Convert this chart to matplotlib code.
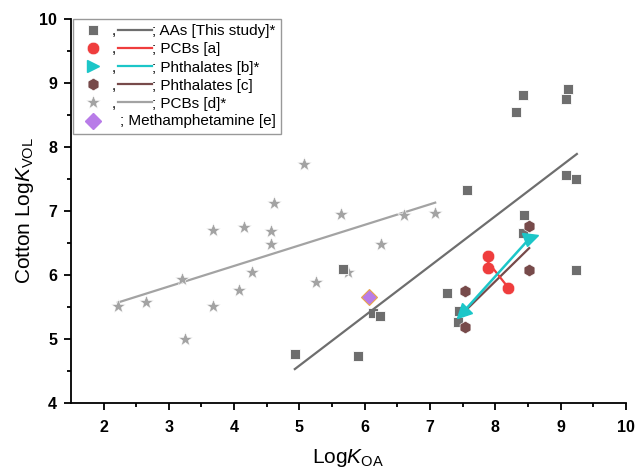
import matplotlib
matplotlib.use("Agg")
import matplotlib.pyplot as plt
from matplotlib.lines import Line2D
from matplotlib.text import Text
from matplotlib.markers import MarkerStyle
from matplotlib.transforms import Affine2D
from matplotlib.legend_handler import HandlerBase

plt.rcParams["font.family"] = ["Liberation Sans", "DejaVu Sans"]
plt.rcParams["mathtext.fontset"] = "custom"
plt.rcParams["mathtext.rm"] = "Liberation Sans"
plt.rcParams["mathtext.it"] = "Liberation Sans:italic"

# data
aa_x = [4.93, 5.89, 5.67, 6.13, 6.23, 7.26, 7.44, 7.43, 7.56, 8.43, 8.32, 9.12, 9.08, 9.08, 9.24, 9.24, 8.44, 8.43]
aa_y = [4.77, 4.73, 6.09, 5.40, 5.36, 5.72, 5.43, 5.26, 7.33, 8.81, 8.54, 8.90, 8.75, 7.56, 7.50, 6.08, 6.94, 6.66]
aa_fit_x = [4.93, 9.25]
aa_fit_y = [4.53, 7.89]

pcb_a_x = [7.89, 7.89, 8.19]
pcb_a_y = [6.30, 6.11, 5.80]
pcb_a_fit_x = [7.89, 8.17]
pcb_a_fit_y = [6.20, 5.84]

phth_b_x = [7.49, 8.55]
phth_b_y = [5.40, 6.60]

phth_c_x = [7.54, 7.54, 8.51, 8.51]
phth_c_y = [5.75, 5.18, 6.76, 6.07]
phth_c_fit_x = [7.53, 8.52]
phth_c_fit_y = [5.43, 6.42]

pcb_d_x = [2.22, 2.65, 3.20, 3.25, 3.67, 3.67, 4.08, 4.15, 4.27, 4.56, 4.56, 4.61,
           5.07, 5.25, 5.63, 5.75, 6.25, 6.60, 7.08]
pcb_d_y = [5.52, 5.58, 5.93, 5.00, 6.70, 5.52, 5.77, 6.75, 6.04, 6.68, 6.49, 7.13,
           7.73, 5.89, 6.95, 6.04, 6.49, 6.93, 6.97]
pcb_d_fit_x = [2.22, 7.08]
pcb_d_fit_y = [5.57, 7.13]

meth_x = [6.07]
meth_y = [5.65]

labels = ["; AAs [This study]*", "; PCBs [a]", "; Phthalates [b]*",
          "; Phthalates [c]", "; PCBs [d]*", "; Methamphetamine [e]"]

c_aa = "#6e6e6e"
c_red = "#ef3d3d"
c_cyan = "#1cc6c8"
c_brown = "#774a4a"
c_star = "#a3a3a3"
c_purple = "#b87ce8"

fig = plt.figure(figsize=(6.36, 4.73), dpi=100)
ax = fig.add_axes([0.1115, 0.148, 0.8725, 0.812])

ax.plot(pcb_d_fit_x, pcb_d_fit_y, color=c_star, lw=1.6, zorder=2)
st = ax.plot(pcb_d_x, pcb_d_y, ls="none", marker="*", ms=10, color=c_star,
             mec="white", mew=0.4, zorder=3)[0]

sq = ax.plot(aa_x, aa_y, ls="none", marker="s", ms=7.5, color=c_aa,
             mec="white", mew=0.6, zorder=3)[0]
ax.plot(aa_fit_x, aa_fit_y, color=c_aa, lw=1.6, zorder=4)

hx = ax.plot(phth_c_x, phth_c_y, ls="none", marker="h", ms=9, color=c_brown,
             mec="white", mew=0.4, zorder=3)[0]
ax.plot(phth_c_fit_x, phth_c_fit_y, color=c_brown, lw=1.6, zorder=4)

ci = ax.plot(pcb_a_x, pcb_a_y, ls="none", marker="o", ms=9, color=c_red,
             mec="white", mew=0.4, zorder=3)[0]
ax.plot(pcb_a_fit_x, pcb_a_fit_y, color=c_red, lw=1.6, zorder=4)

ax.plot(phth_b_x, phth_b_y, color=c_cyan, lw=1.8, zorder=5)
angles = [225, 20]
for xv, yv, a in zip(phth_b_x, phth_b_y, angles):
    ax.plot([xv], [yv], ls="none", color=c_cyan, ms=10,
            marker=MarkerStyle(">", transform=Affine2D().rotate_deg(a)), zorder=6)
tri = Line2D([], [], ls="none", marker=">", ms=9, color=c_cyan)

ax.plot(meth_x, meth_y, ls="none", marker="D", ms=8, color=c_purple,
        mec="#e8a54a", mew=0.8, zorder=6)
dm = Line2D([], [], ls="none", marker="D", ms=8, color=c_purple)


class CommaHandler(HandlerBase):
    def create_artists(self, legend, orig_handle, xdescent, ydescent,
                       width, height, fontsize, trans):
        mk, col = orig_handle
        y = height / 2 - ydescent
        x0 = -xdescent
        m = Line2D([x0 + 11], [y])
        m.update_from(mk)
        m.set_data([x0 + 11], [y])
        m.set_transform(trans)
        t = Text(x0 + 26, y - 1, ",", fontsize=fontsize, va="center",
                 ha="center", transform=trans)
        ln = Line2D([x0 + 29, x0 + width], [y, y], color=col, lw=1.6,
                    transform=trans)
        return [m, t, ln]


class TextHandler(HandlerBase):
    def create_artists(self, legend, orig_handle, xdescent, ydescent,
                       width, height, fontsize, trans):
        mk, txt = orig_handle
        y = height / 2 - ydescent
        x0 = -xdescent
        m = Line2D([x0 + 11], [y])
        m.update_from(mk)
        m.set_data([x0 + 11], [y])
        m.set_transform(trans)
        t = Text(x0 + 30, y, txt, fontsize=fontsize, va="center",
                 ha="left", transform=trans)
        return [m, t]


handles = [(sq, c_aa), (ci, c_red), (tri, c_cyan), (hx, c_brown), (st, c_star),
           (dm, labels[5])]
hmap = {h: (TextHandler() if i == 5 else CommaHandler())
        for i, h in enumerate(handles)}
leg = ax.legend(handles, labels[:5] + [""], handler_map=hmap, loc="upper left",
                bbox_to_anchor=(0.003, 1.0), fontsize=11, handlelength=4.87,
                handletextpad=0.0, borderpad=0.35, labelspacing=0.27,
                fancybox=False, edgecolor="#999999", framealpha=1,
                borderaxespad=0.0)
leg.get_frame().set_linewidth(1.0)

ax.set_xlim(1.5, 10)
ax.set_ylim(4, 10)
ax.set_xticks([2, 3, 4, 5, 6, 7, 8, 9, 10])
ax.set_yticks([4, 5, 6, 7, 8, 9, 10])
ax.set_xticks([2.5, 3.5, 4.5, 5.5, 6.5, 7.5, 8.5, 9.5], minor=True)
ax.set_yticks([4.5, 5.5, 6.5, 7.5, 8.5, 9.5], minor=True)
ax.spines["top"].set_visible(False)
ax.spines["right"].set_visible(False)
for s in ["left", "bottom"]:
    ax.spines[s].set_linewidth(1.3)
ax.tick_params(which="major", direction="out", length=5, width=1.3,
               labelsize=11.5)
ax.tick_params(axis="x", which="major", pad=7)
ax.tick_params(axis="y", which="major", pad=5)
ax.tick_params(which="minor", direction="out", length=3, width=1.3)
for lab in ax.get_xticklabels() + ax.get_yticklabels():
    lab.set_fontweight("bold")

ax.set_xlabel("Log$K$$_{\\mathrm{OA}}$", fontsize=15, labelpad=9)
ax.set_ylabel("Cotton Log$K$$_{\\mathrm{VOL}}$", fontsize=15, labelpad=2)

fig.savefig("out.png", dpi=100)
